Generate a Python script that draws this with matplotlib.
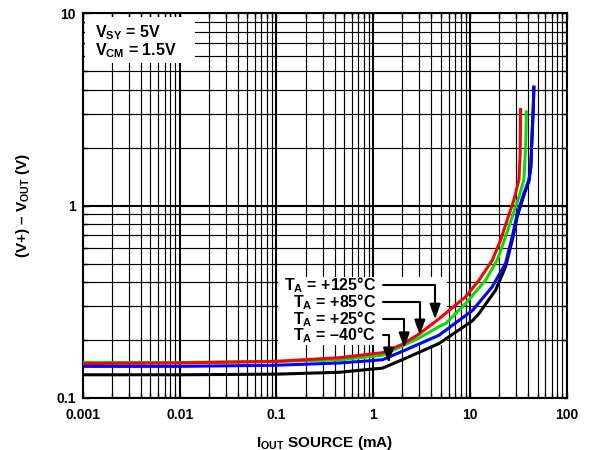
import numpy as np
import matplotlib
matplotlib.use("Agg")
import matplotlib.pyplot as plt
from matplotlib.patches import Rectangle
from matplotlib.ticker import LogLocator, NullFormatter

plt.rcParams["font.family"] = ["Liberation Sans", "DejaVu Sans"]
plt.rcParams["font.weight"] = "bold"
plt.rcParams["axes.labelweight"] = "bold"
plt.rcParams["mathtext.fontset"] = "custom"
plt.rcParams["mathtext.rm"] = "Liberation Sans:bold"
plt.rcParams["mathtext.it"] = "Liberation Sans:bold"
plt.rcParams["mathtext.bf"] = "Liberation Sans:bold"

# output current (mA) and headroom (V)
red_x = [0.001, 0.01, 0.1, 0.446, 1.25, 2.0, 2.98, 4.79, 7.71, 9.0, 12.4, 17, 20.7, 24.2, 28.4, 32, 33, 33.3]
red_y = [0.151, 0.152, 0.155, 0.162, 0.172, 0.19, 0.215, 0.258, 0.315, 0.335, 0.41, 0.52, 0.662, 0.84, 1.07, 1.36, 1.87, 3.16]

green_x = [0.001, 0.01, 0.1, 0.446, 1.25, 2.98, 4.79, 5.61, 9.03, 14.5, 19.1, 23.3, 27.3, 32, 36, 37.5, 38, 38.2]
green_y = [0.153, 0.153, 0.155, 0.158, 0.167, 0.205, 0.235, 0.244, 0.31, 0.41, 0.521, 0.688, 0.875, 1.11, 1.36, 2.0, 2.6, 3.07]

blue_x = [0.001, 0.01, 0.1, 0.446, 1.25, 2.17, 4.79, 5.61, 10.6, 17, 23.3, 27.3, 30.8, 36, 40.6, 42.5, 43.7, 45, 45.7]
blue_y = [0.146, 0.146, 0.148, 0.152, 0.158, 0.178, 0.212, 0.225, 0.285, 0.379, 0.501, 0.688, 0.91, 1.157, 1.36, 1.6, 2.28, 3.2, 4.14]

black_x = [0.001, 0.01, 0.1, 0.446, 1.25, 2.17, 4.79, 7.71, 10.6, 12.4, 18.4, 23.3, 27.3, 30.8, 36, 40.6, 42.5, 43.7, 45, 45.7]
black_y = [0.132, 0.132, 0.133, 0.136, 0.143, 0.161, 0.192, 0.226, 0.252, 0.275, 0.364, 0.481, 0.66, 0.88, 1.13, 1.34, 1.58, 2.25, 3.15, 4.1]

labels = ["T$_\\mathrm{A}$ = +125°C", "T$_\\mathrm{A}$ = +85°C",
          "T$_\\mathrm{A}$ = +25°C", "T$_\\mathrm{A}$ = \u201340°C"]
arrow_x = [4.36, 3.03, 2.09, 1.44]      # where each arrow lands on its curve
label_y = [0.386, 0.315, 0.257, 0.2125]

x_ticks = [0.001, 0.01, 0.1, 1, 10, 100]
x_ticklabels = ["0.001", "0.01", "0.1", "1", "10", "100"]
y_ticks = [0.1, 1, 10]
y_ticklabels = ["0.1", "1", "10"]

fig = plt.figure(figsize=(5.96, 4.5), dpi=100)
ax = fig.add_axes([0.139, 0.1156, 0.812, 0.855])
ax.set_xscale("log")
ax.set_yscale("log")
ax.set_xlim(0.001, 100)
ax.set_ylim(0.1, 10)

ax.xaxis.set_minor_locator(LogLocator(base=10, subs=np.arange(2, 10)))
ax.yaxis.set_minor_locator(LogLocator(base=10, subs=np.arange(2, 10)))
ax.xaxis.set_minor_formatter(NullFormatter())
ax.yaxis.set_minor_formatter(NullFormatter())
ax.set_xticks(x_ticks, x_ticklabels)
ax.set_yticks(y_ticks, y_ticklabels)
ax.tick_params(which="both", direction="in", top=True, right=True,
               width=1.0, labelsize=10)
ax.tick_params(which="major", length=4)
ax.tick_params(which="minor", length=3.5)
ax.tick_params(axis="x", pad=7)
ax.tick_params(axis="y", pad=5)

ax.grid(which="major", color="black", lw=1.5, zorder=0)
ax.grid(which="minor", color="black", lw=0.85, zorder=0)
ax.set_axisbelow(True)
for s in ax.spines.values():
    s.set_linewidth(1.5)

# white boxes behind the text blocks
ax.add_patch(Rectangle((0.004, 0.870), 0.227, 0.120, transform=ax.transAxes,
                       facecolor="white", edgecolor="none", zorder=1))
ax.add_patch(Rectangle((0.403, 0.138), 0.349, 0.176, transform=ax.transAxes,
                       facecolor="white", edgecolor="none", zorder=1))

lw = 2.2
ax.plot(black_x, black_y, color="black", lw=lw, zorder=3)
ax.plot(green_x, green_y, color="#00e000", lw=lw, zorder=3)
ax.plot(red_x, red_y, color="#ff0000", lw=lw, zorder=3)
ax.plot(blue_x, blue_y, color="#0000ff", lw=lw, zorder=3)

curves = [(red_x, red_y), (green_x, green_y), (blue_x, blue_y), (black_x, black_y)]
for text, ax_x, ty, (cx, cy) in zip(labels, arrow_x, label_y, curves):
    tip_y = 10 ** np.interp(np.log10(ax_x), np.log10(cx), np.log10(cy)) * 1.03
    ax.annotate(text, xy=(ax_x, tip_y), xytext=(1.07, ty),
                ha="right", va="center", fontsize=11.5, zorder=4,
                arrowprops=dict(arrowstyle="-|>,head_length=0.9,head_width=0.32",
                                connectionstyle="angle,angleA=0,angleB=90,rad=0",
                                color="black", lw=1.5, shrinkA=3, shrinkB=0,
                                mutation_scale=10))

ax.text(0.025, 0.975, "V$_\\mathrm{SY}$ = 5V\nV$_\\mathrm{CM}$ = 1.5V",
        transform=ax.transAxes, ha="left", va="top", fontsize=11.5,
        linespacing=1.0, zorder=4)

ax.set_xlabel("I$_\\mathrm{OUT}$ SOURCE (mA)", fontsize=11, fontweight="bold")
ax.set_ylabel("(V+) \u2013 V$_\\mathrm{OUT}$ (V)", fontsize=11, fontweight="bold")
ax.xaxis.set_label_coords(0.5, -0.093)
ax.yaxis.set_label_coords(-0.105, 0.5)

fig.savefig("out.png", dpi=100)
